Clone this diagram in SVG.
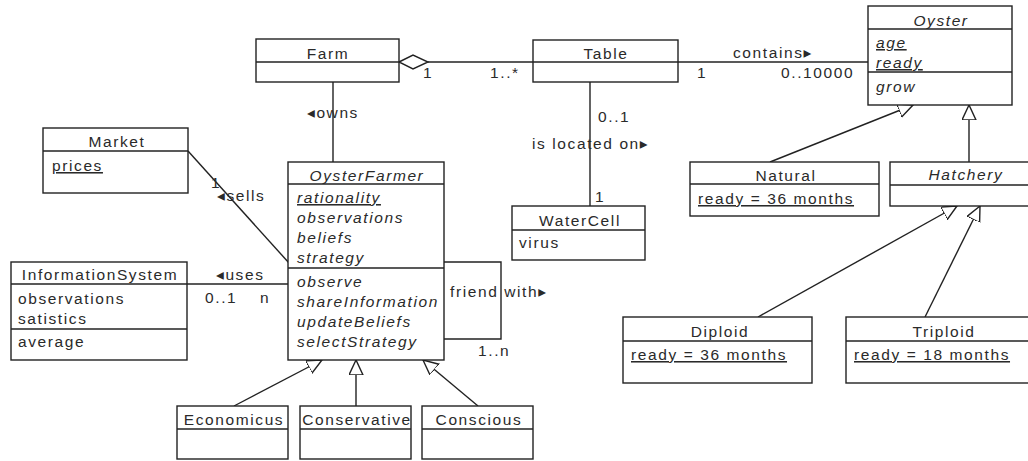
<svg xmlns="http://www.w3.org/2000/svg" width="1028" height="461" viewBox="0 0 1028 461">
<style>
  .box { fill: #ffffff; stroke: #222222; stroke-width: 1.4; }
  .div { stroke: #222222; stroke-width: 1.4; fill: none; }
  .edge { stroke: #222222; stroke-width: 1.4; fill: none; }
  text { font-family: "Liberation Sans", "DejaVu Sans", sans-serif; font-size: 15.5px; fill: #2a2a2a; letter-spacing: 1.6px; }
  .c { text-anchor: middle; }
  .i { font-style: italic; }
  .u { text-decoration: underline; }
</style>
<defs>
  <marker id="gen" markerUnits="userSpaceOnUse" markerWidth="18" markerHeight="18" refX="15" refY="7" orient="auto">
    <path d="M15,7 L0,0 L0,14 Z" fill="#ffffff" stroke="#222222" stroke-width="1.4"/>
  </marker>
</defs>
<rect width="1028" height="461" fill="#ffffff"/>

<g id="connectors">
  <line class="edge" x1="428" y1="62" x2="533" y2="62"/>
  <polygon points="399,62 413,55 428,62 413,69" fill="#ffffff" stroke="#222222" stroke-width="1.4"/>
  <text x="423" y="78">1</text>
  <text x="490" y="78">1..*</text>
  <line class="edge" x1="678" y1="62" x2="868" y2="62"/>
  <text x="733" y="58">contains▸</text>
  <text x="697" y="78">1</text>
  <text x="781" y="78">0..10000</text>
  <line class="edge" x1="590" y1="82" x2="590" y2="206"/>
  <text x="598" y="122">0..1</text>
  <text x="532" y="149">is located on▸</text>
  <text x="595" y="202">1</text>
  <line class="edge" x1="333" y1="82" x2="333" y2="162"/>
  <text x="307" y="118">◂owns</text>
  <line class="edge" x1="188" y1="151" x2="289" y2="263"/>
  <text x="211" y="188">1</text>
  <text x="217" y="201">◂sells</text>
  <line class="edge" x1="187" y1="284" x2="288" y2="284"/>
  <text x="216" y="280">◂uses</text>
  <text x="205" y="303">0..1</text>
  <text x="260" y="303">n</text>
  <path class="edge" d="M444,262 H501 V339 H444"/>
  <text x="450" y="297">friend with▸</text>
  <text x="478" y="356">1..n</text>
  <line class="edge" x1="234" y1="406" x2="322" y2="360" marker-end="url(#gen)"/>
  <line class="edge" x1="356" y1="406" x2="356" y2="360" marker-end="url(#gen)"/>
  <line class="edge" x1="478" y1="406" x2="423" y2="360" marker-end="url(#gen)"/>
  <line class="edge" x1="770" y1="162" x2="913" y2="105" marker-end="url(#gen)"/>
  <line class="edge" x1="969" y1="162" x2="969" y2="105" marker-end="url(#gen)"/>
  <line class="edge" x1="758" y1="317" x2="957" y2="206" marker-end="url(#gen)"/>
  <line class="edge" x1="925" y1="317" x2="980" y2="206" marker-end="url(#gen)"/>
</g>

<g id="Farm">
  <rect class="box" x="256" y="39" width="143" height="43"/>
  <line class="div" x1="256" y1="62" x2="399" y2="62"/>
  <text class="c" x="328" y="59">Farm</text>
</g>

<g id="Table">
  <rect class="box" x="533" y="40" width="145" height="42"/>
  <line class="div" x1="533" y1="62" x2="678" y2="62"/>
  <text class="c" x="606" y="59">Table</text>
</g>

<g id="Oyster">
  <rect class="box" x="868" y="6" width="144" height="99"/>
  <line class="div" x1="868" y1="29" x2="1012" y2="29"/>
  <line class="div" x1="868" y1="72" x2="1012" y2="72"/>
  <text class="c i" x="941" y="26">Oyster</text>
  <text class="i u" x="876" y="48">age</text>
  <text class="i u" x="876" y="68">ready</text>
  <text class="i" x="876" y="92">grow</text>
</g>

<g id="Natural">
  <rect class="box" x="690" y="162" width="189" height="54"/>
  <line class="div" x1="690" y1="184" x2="879" y2="184"/>
  <text class="c" x="786" y="181">Natural</text>
  <text class="u" x="698" y="204">ready = 36 months</text>
</g>

<g id="Hatchery">
  <rect class="box" x="890" y="162" width="150" height="44"/>
  <line class="div" x1="890" y1="185" x2="1040" y2="185"/>
  <text class="c i" x="966" y="180">Hatchery</text>
</g>

<g id="Diploid">
  <rect class="box" x="623" y="317" width="189" height="66"/>
  <line class="div" x1="623" y1="341" x2="812" y2="341"/>
  <text class="c" x="720" y="337">Diploid</text>
  <text class="u" x="631" y="360">ready = 36 months</text>
</g>

<g id="Triploid">
  <rect class="box" x="846" y="317" width="190" height="66"/>
  <line class="div" x1="846" y1="341" x2="1036" y2="341"/>
  <text class="c" x="944" y="337">Triploid</text>
  <text class="u" x="854" y="360">ready = 18 months</text>
</g>

<g id="WaterCell">
  <rect class="box" x="512" y="206" width="133" height="54"/>
  <line class="div" x1="512" y1="230" x2="645" y2="230"/>
  <text class="c" x="580" y="226">WaterCell</text>
  <text x="519" y="248">virus</text>
</g>

<g id="Market">
  <rect class="box" x="43" y="128" width="145" height="65"/>
  <line class="div" x1="43" y1="151" x2="188" y2="151"/>
  <text class="c" x="117" y="147">Market</text>
  <text class="u" x="52" y="171">prices</text>
</g>

<g id="OysterFarmer">
  <rect class="box" x="288" y="162" width="156" height="198"/>
  <line class="div" x1="288" y1="184" x2="444" y2="184"/>
  <line class="div" x1="288" y1="268" x2="444" y2="268"/>
  <text class="c i" x="367" y="181">OysterFarmer</text>
  <text class="i u" x="297" y="203">rationality</text>
  <text class="i" x="297" y="223">observations</text>
  <text class="i" x="297" y="243">beliefs</text>
  <text class="i" x="297" y="263">strategy</text>
  <text class="i" x="297" y="287">observe</text>
  <text class="i" x="297" y="307">shareInformation</text>
  <text class="i" x="297" y="327">updateBeliefs</text>
  <text class="i" x="297" y="347">selectStrategy</text>
</g>

<g id="InformationSystem">
  <rect class="box" x="11" y="262" width="176" height="98"/>
  <line class="div" x1="11" y1="284" x2="187" y2="284"/>
  <line class="div" x1="11" y1="329" x2="187" y2="329"/>
  <text class="c" x="100" y="280">InformationSystem</text>
  <text x="18" y="304">observations</text>
  <text x="18" y="324">satistics</text>
  <text x="18" y="347">average</text>
</g>

<g id="Economicus">
  <rect class="box" x="177" y="406" width="111" height="53"/>
  <line class="div" x1="177" y1="429" x2="288" y2="429"/>
  <text class="c" x="234" y="425">Economicus</text>
</g>

<g id="Conservative">
  <rect class="box" x="300" y="406" width="111" height="53"/>
  <line class="div" x1="300" y1="429" x2="411" y2="429"/>
  <text class="c" x="357" y="425">Conservative</text>
</g>

<g id="Conscious">
  <rect class="box" x="422" y="406" width="111" height="53"/>
  <line class="div" x1="422" y1="429" x2="533" y2="429"/>
  <text class="c" x="479" y="425">Conscious</text>
</g>
</svg>
